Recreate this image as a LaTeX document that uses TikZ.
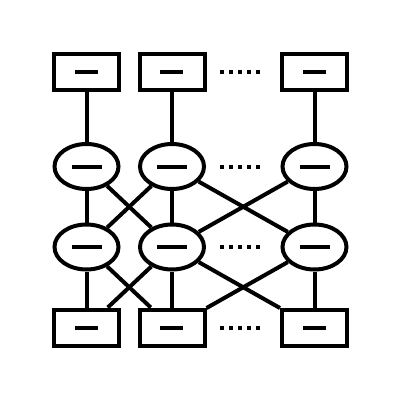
\documentclass[tikz,border=0pt]{standalone}
\usetikzlibrary{shapes.geometric}
\begin{document}
\begin{tikzpicture}[x=1pt,y=-1pt,
  box/.style={draw, line width=4pt, minimum width=65pt, minimum height=36pt, inner sep=0pt, fill=white},
  oval/.style={draw, ellipse, line width=4pt, minimum width=64pt, minimum height=45pt, inner sep=0pt, fill=white},
  link/.style={line width=4pt},
  dotmark/.style={fill=black}]
\fill[white] (0,0) rectangle (400,400);
\useasboundingbox (0,0) rectangle (400,400);
\newcommand{\myrbar}{\rule[-2pt]{23pt}{4pt}}
\newcommand{\myobar}{\rule[-2pt]{30pt}{4pt}}
\coordinate (ta) at (86.5,72); \coordinate (tb) at (172,72); \coordinate (tc) at (314.5,72);
\coordinate (ua) at (86.5,166.5); \coordinate (ub) at (172,166.5); \coordinate (uc) at (314.5,166.5);
\coordinate (va) at (86.5,247); \coordinate (vb) at (172,247); \coordinate (vc) at (314.5,247);
\coordinate (wa) at (86.5,327.5); \coordinate (wb) at (172,327.5); \coordinate (wc) at (314.5,327.5);
\node[box] (t1) at (ta) {\myrbar};
\node[box] (t2) at (tb) {\myrbar};
\node[box] (t3) at (tc) {\myrbar};
\node[oval] (e1) at (ua) {\myobar};
\node[oval] (e2) at (ub) {\myobar};
\node[oval] (e3) at (uc) {\myobar};
\node[oval] (f1) at (va) {\myobar};
\node[oval] (f2) at (vb) {\myobar};
\node[oval] (f3) at (vc) {\myobar};
\node[box] (b1) at (wa) {\myrbar};
\node[box] (b2) at (wb) {\myrbar};
\node[box] (b3) at (wc) {\myrbar};
\begin{scope}[link]
\draw (t1) -- (e1); \draw (t2) -- (e2); \draw (t3) -- (e3);
\draw (e1) -- (f1); \draw (e2) -- (f2); \draw (e3) -- (f3);
\draw (f1) -- (b1); \draw (f2) -- (b2); \draw (f3) -- (b3);
\draw (e1) -- (f2); \draw (e2) -- (f1); \draw (e2) -- (f3); \draw (e3) -- (f2);
\draw (f1) -- (b2); \draw (f2) -- (b1); \draw (f2) -- (b3); \draw (f3) -- (b2);
\end{scope}
\foreach \y in {72,166.5,247,327.5}{
  \foreach \x in {222,231,240,249,258}{
    \fill[dotmark] (\x-2,\y-2) rectangle (\x+2,\y+2);
  }
}
\end{tikzpicture}
\end{document}
